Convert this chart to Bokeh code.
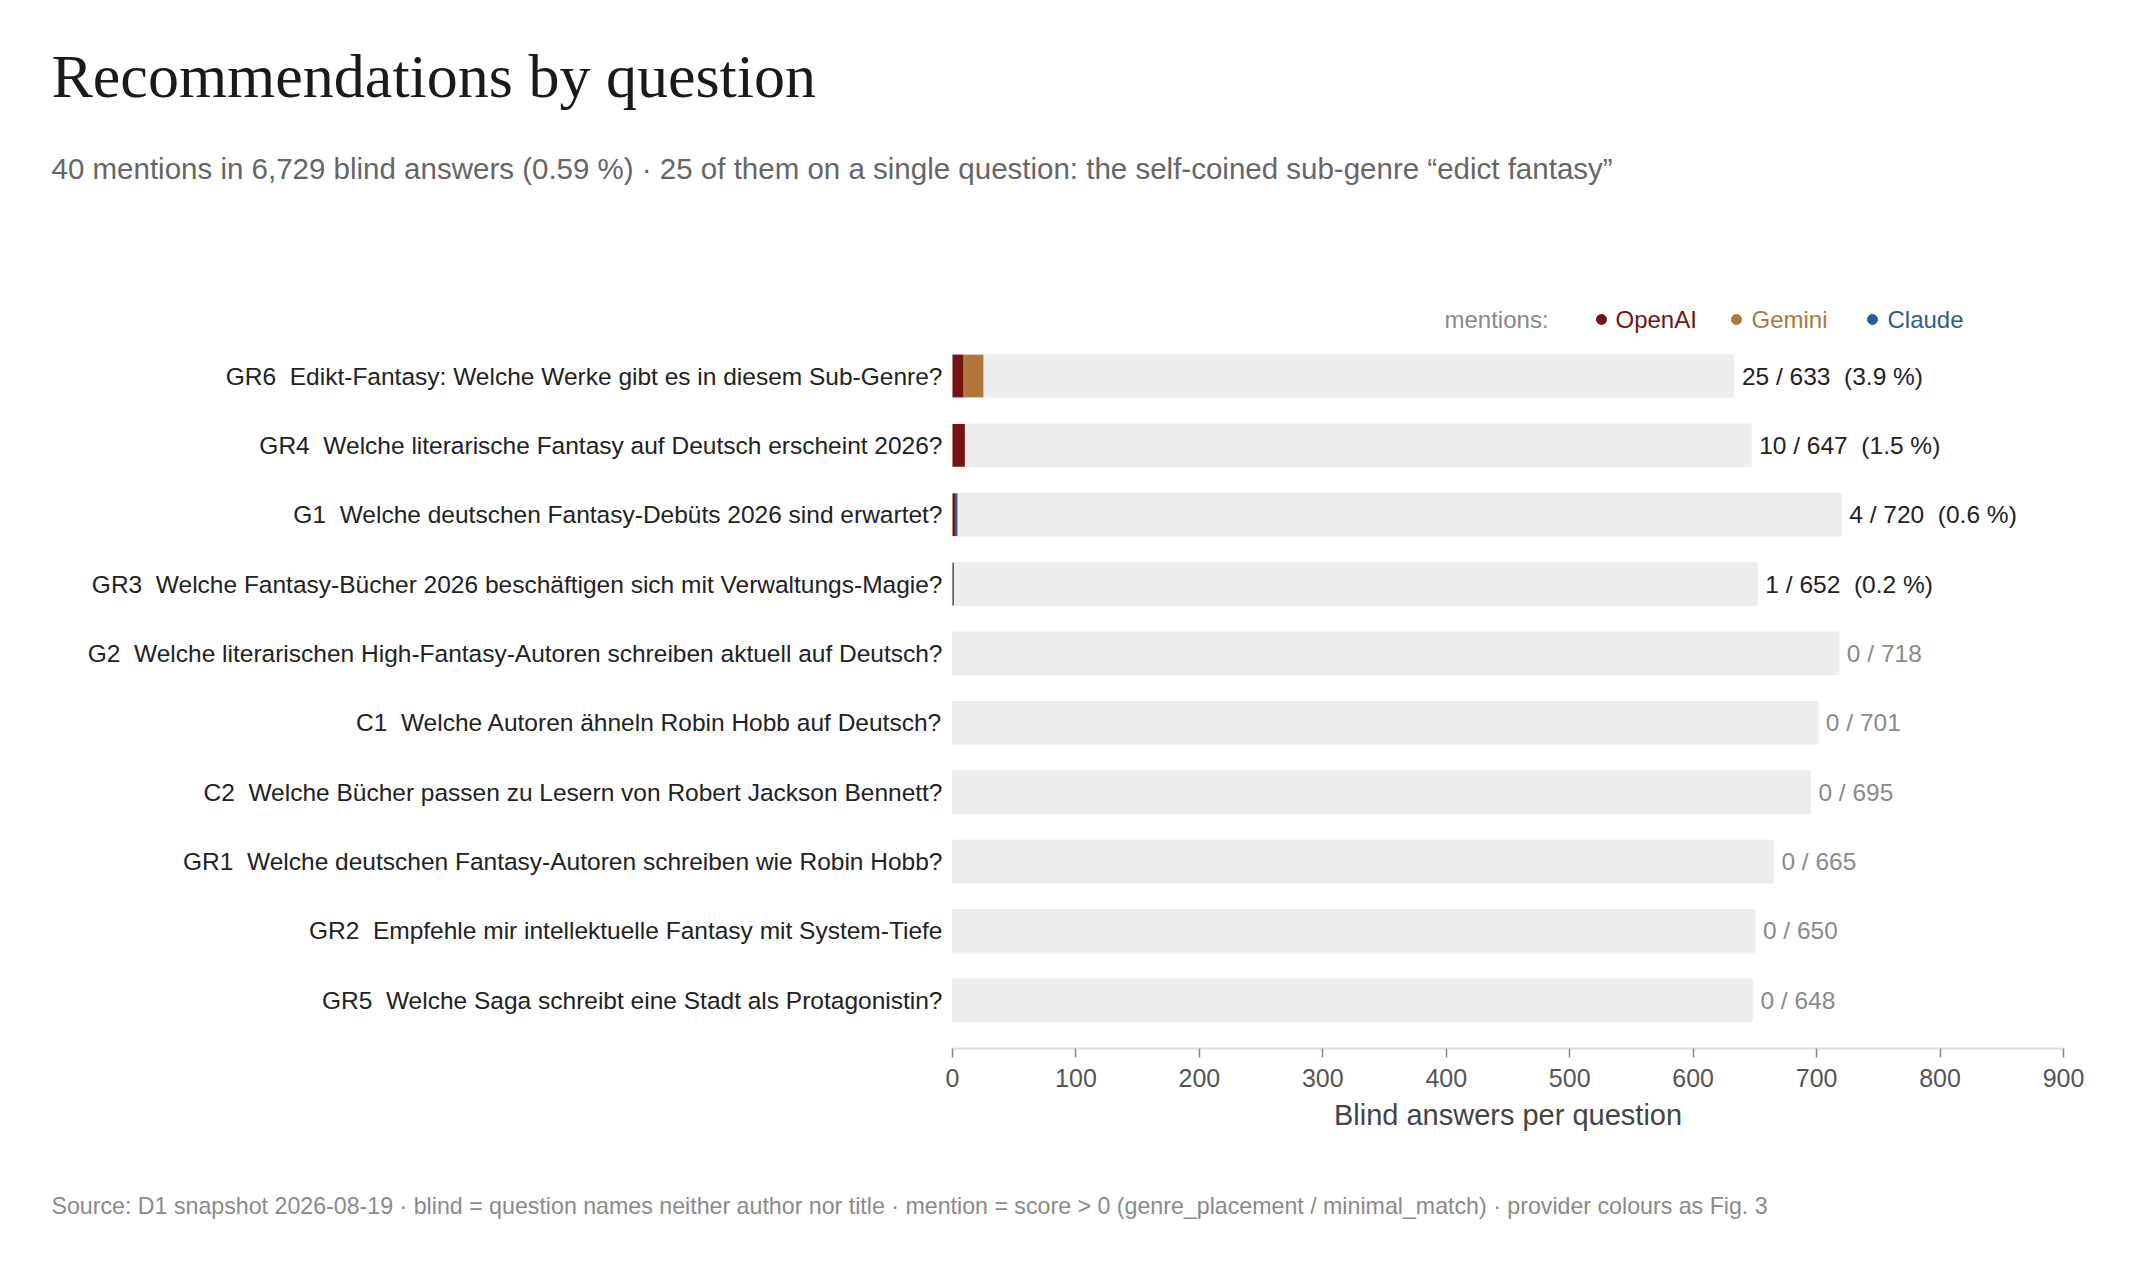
from bokeh.plotting import figure
from bokeh.models import ColumnDataSource, Range1d, SingleIntervalTicker
from bokeh.core.properties import value
from bokeh.embed import file_html
from bokeh.resources import INLINE

# data, top row first
codes = ["GR6", "GR4", "G1", "GR3", "G2", "C1", "C2", "GR1", "GR2", "GR5"]
questions = [
    "Edikt-Fantasy: Welche Werke gibt es in diesem Sub-Genre?",
    "Welche literarische Fantasy auf Deutsch erscheint 2026?",
    "Welche deutschen Fantasy-Debüts 2026 sind erwartet?",
    "Welche Fantasy-Bücher 2026 beschäftigen sich mit Verwaltungs-Magie?",
    "Welche literarischen High-Fantasy-Autoren schreiben aktuell auf Deutsch?",
    "Welche Autoren ähneln Robin Hobb auf Deutsch?",
    "Welche Bücher passen zu Lesern von Robert Jackson Bennett?",
    "Welche deutschen Fantasy-Autoren schreiben wie Robin Hobb?",
    "Empfehle mir intellektuelle Fantasy mit System-Tiefe",
    "Welche Saga schreibt eine Stadt als Protagonistin?",
]
blind_answers = [633, 647, 720, 652, 718, 701, 695, 665, 650, 648]
openai_mentions = [9, 10, 2, 1, 0, 0, 0, 0, 0, 0]
gemini_mentions = [16, 0, 0, 0, 0, 0, 0, 0, 0, 0]
claude_mentions = [0, 0, 2, 0, 0, 0, 0, 0, 0, 0]
providers = ["OpenAI", "Gemini", "Claude"]
provider_colors = ["#741313", "#b2763a", "#2e5d8d"]
x_ticks_step = 100
x_max = 900

FONT = "Liberation Sans"
SP2 = "\u00a0\u00a0"   # double space that svg does not collapse

# layout (pixels on the page)
W, H = 2115, 1245
X0_PX = 952             # x = 0
PX_PER_UNIT = 1111 / 900
ROW0_PX = 375.5         # first row centre
ROW_PX = 69.36
AXIS_PX = 1048
BAR_H = 0.616


def px_x(px):
    return (px - X0_PX) / PX_PER_UNIT


def px_y(px):
    return (px - ROW0_PX) / ROW_PX


mentions = [o + g + c for o, g, c in zip(openai_mentions, gemini_mentions, claude_mentions)]
rows = list(range(len(codes)))
value_text = []
value_color = []
for m, t in zip(mentions, blind_answers):
    if m > 0:
        value_text.append(f"{m} / {t}{SP2}({100 * m / t:.1f} %)")
        value_color.append("#222222")
    else:
        value_text.append(f"{m} / {t}")
        value_color.append("#8a8a8a")

src = ColumnDataSource(dict(
    row=rows,
    total=blind_answers,
    label=[f"{c}{SP2}{q}" for c, q in zip(codes, questions)],
    value_text=value_text,
    value_color=value_color,
    OpenAI=openai_mentions,
    Gemini=gemini_mentions,
    Claude=claude_mentions,
))

p = figure(width=W, height=H, output_backend="svg", toolbar_location=None,
           x_range=Range1d(px_x(0), px_x(W)),
           y_range=Range1d(px_y(H), px_y(0)),
           y_axis_location=None, min_border_left=0, min_border_right=0,
           min_border_top=0, min_border_bottom=0)
p.outline_line_color = None
p.xgrid.visible = False
p.ygrid.visible = False
p.background_fill_color = "white"
p.border_fill_color = "white"

# grey totals, then stacked mentions
p.hbar(y="row", left=0, right="total", height=BAR_H, color="#ededed", source=src)
p.hbar_stack(providers, y="row", height=BAR_H, color=provider_colors,
             line_color=None, source=src)

p.text(x=0, y="row", text="label", x_offset=-10, text_align="right",
       text_baseline="middle", text_font=value(FONT), text_font_size="24.5px",
       text_color="#222222", source=src)
p.text(x="total", y="row", text="value_text", x_offset=8, text_align="left",
       text_baseline="middle", text_font=value(FONT), text_font_size="24.5px",
       text_color="value_color", source=src)

# legend row
leg_y = px_y(319)
p.text(x=[px_x(1444)], y=[leg_y], text=["mentions:"], text_baseline="middle",
       text_font=value(FONT), text_font_size="24px", text_color="#8a8a8a")
leg_dot_x = [px_x(1601), px_x(1736), px_x(1872)]
leg_txt_x = [px_x(1615), px_x(1751), px_x(1887)]
p.scatter(x=leg_dot_x, y=[leg_y] * 3, size=10, color=provider_colors)
p.text(x=leg_txt_x, y=[leg_y] * 3, text=providers, text_baseline="middle",
       text_font=value(FONT), text_font_size="24px", text_color=provider_colors)

# title and subtitle
total_m = sum(mentions)
total_a = sum(blind_answers)
subtitle = (f"{total_m} mentions in {total_a:,} blind answers ({100 * total_m / total_a:.2f} %) · "
            f"{max(mentions)} of them on a single question: the self-coined sub-genre \u201cedict fantasy\u201d")
p.text(x=[px_x(51)], y=[px_y(75)], text=["Recommendations by question"],
       text_baseline="middle", text_font=value("Liberation Serif"),
       text_font_size="62px", text_color="#1a1a1a")
p.text(x=[px_x(51)], y=[px_y(168)], text=[subtitle], text_baseline="middle",
       text_font=value(FONT), text_font_size="29.5px", text_color="#666666")

# x axis, pinned at the bottom of the bars
ax = p.xaxis[0]
ax.fixed_location = px_y(AXIS_PX)
ax.bounds = (0, x_max)
ax.ticker = SingleIntervalTicker(interval=x_ticks_step, num_minor_ticks=0)
ax.axis_line_color = "#dddddd"
ax.axis_line_width = 2
ax.major_tick_line_color = "#888888"
ax.major_tick_line_width = 1.5
ax.major_tick_out = 9
ax.major_tick_in = 0
ax.minor_tick_line_color = None
ax.major_label_standoff = 11
ax.major_label_text_font = FONT
ax.major_label_text_font_size = "25px"
ax.major_label_text_color = "#555555"

p.text(x=[x_max / 2], y=[px_y(1114)], text=["Blind answers per question"],
       text_align="center", text_baseline="middle", text_font=value(FONT),
       text_font_size="29px", text_color="#444444")
p.text(x=[px_x(51)], y=[px_y(1205)],
       text=["Source: D1 snapshot 2026-08-19 · blind = question names neither author nor title · "
             "mention = score > 0 (genre_placement / minimal_match) · provider colours as Fig. 3"],
       text_align="left", text_baseline="middle", text_font=value(FONT),
       text_font_size="23.2px", text_color="#8a8a8a")

open("out.html", "w").write(file_html(p, INLINE))
